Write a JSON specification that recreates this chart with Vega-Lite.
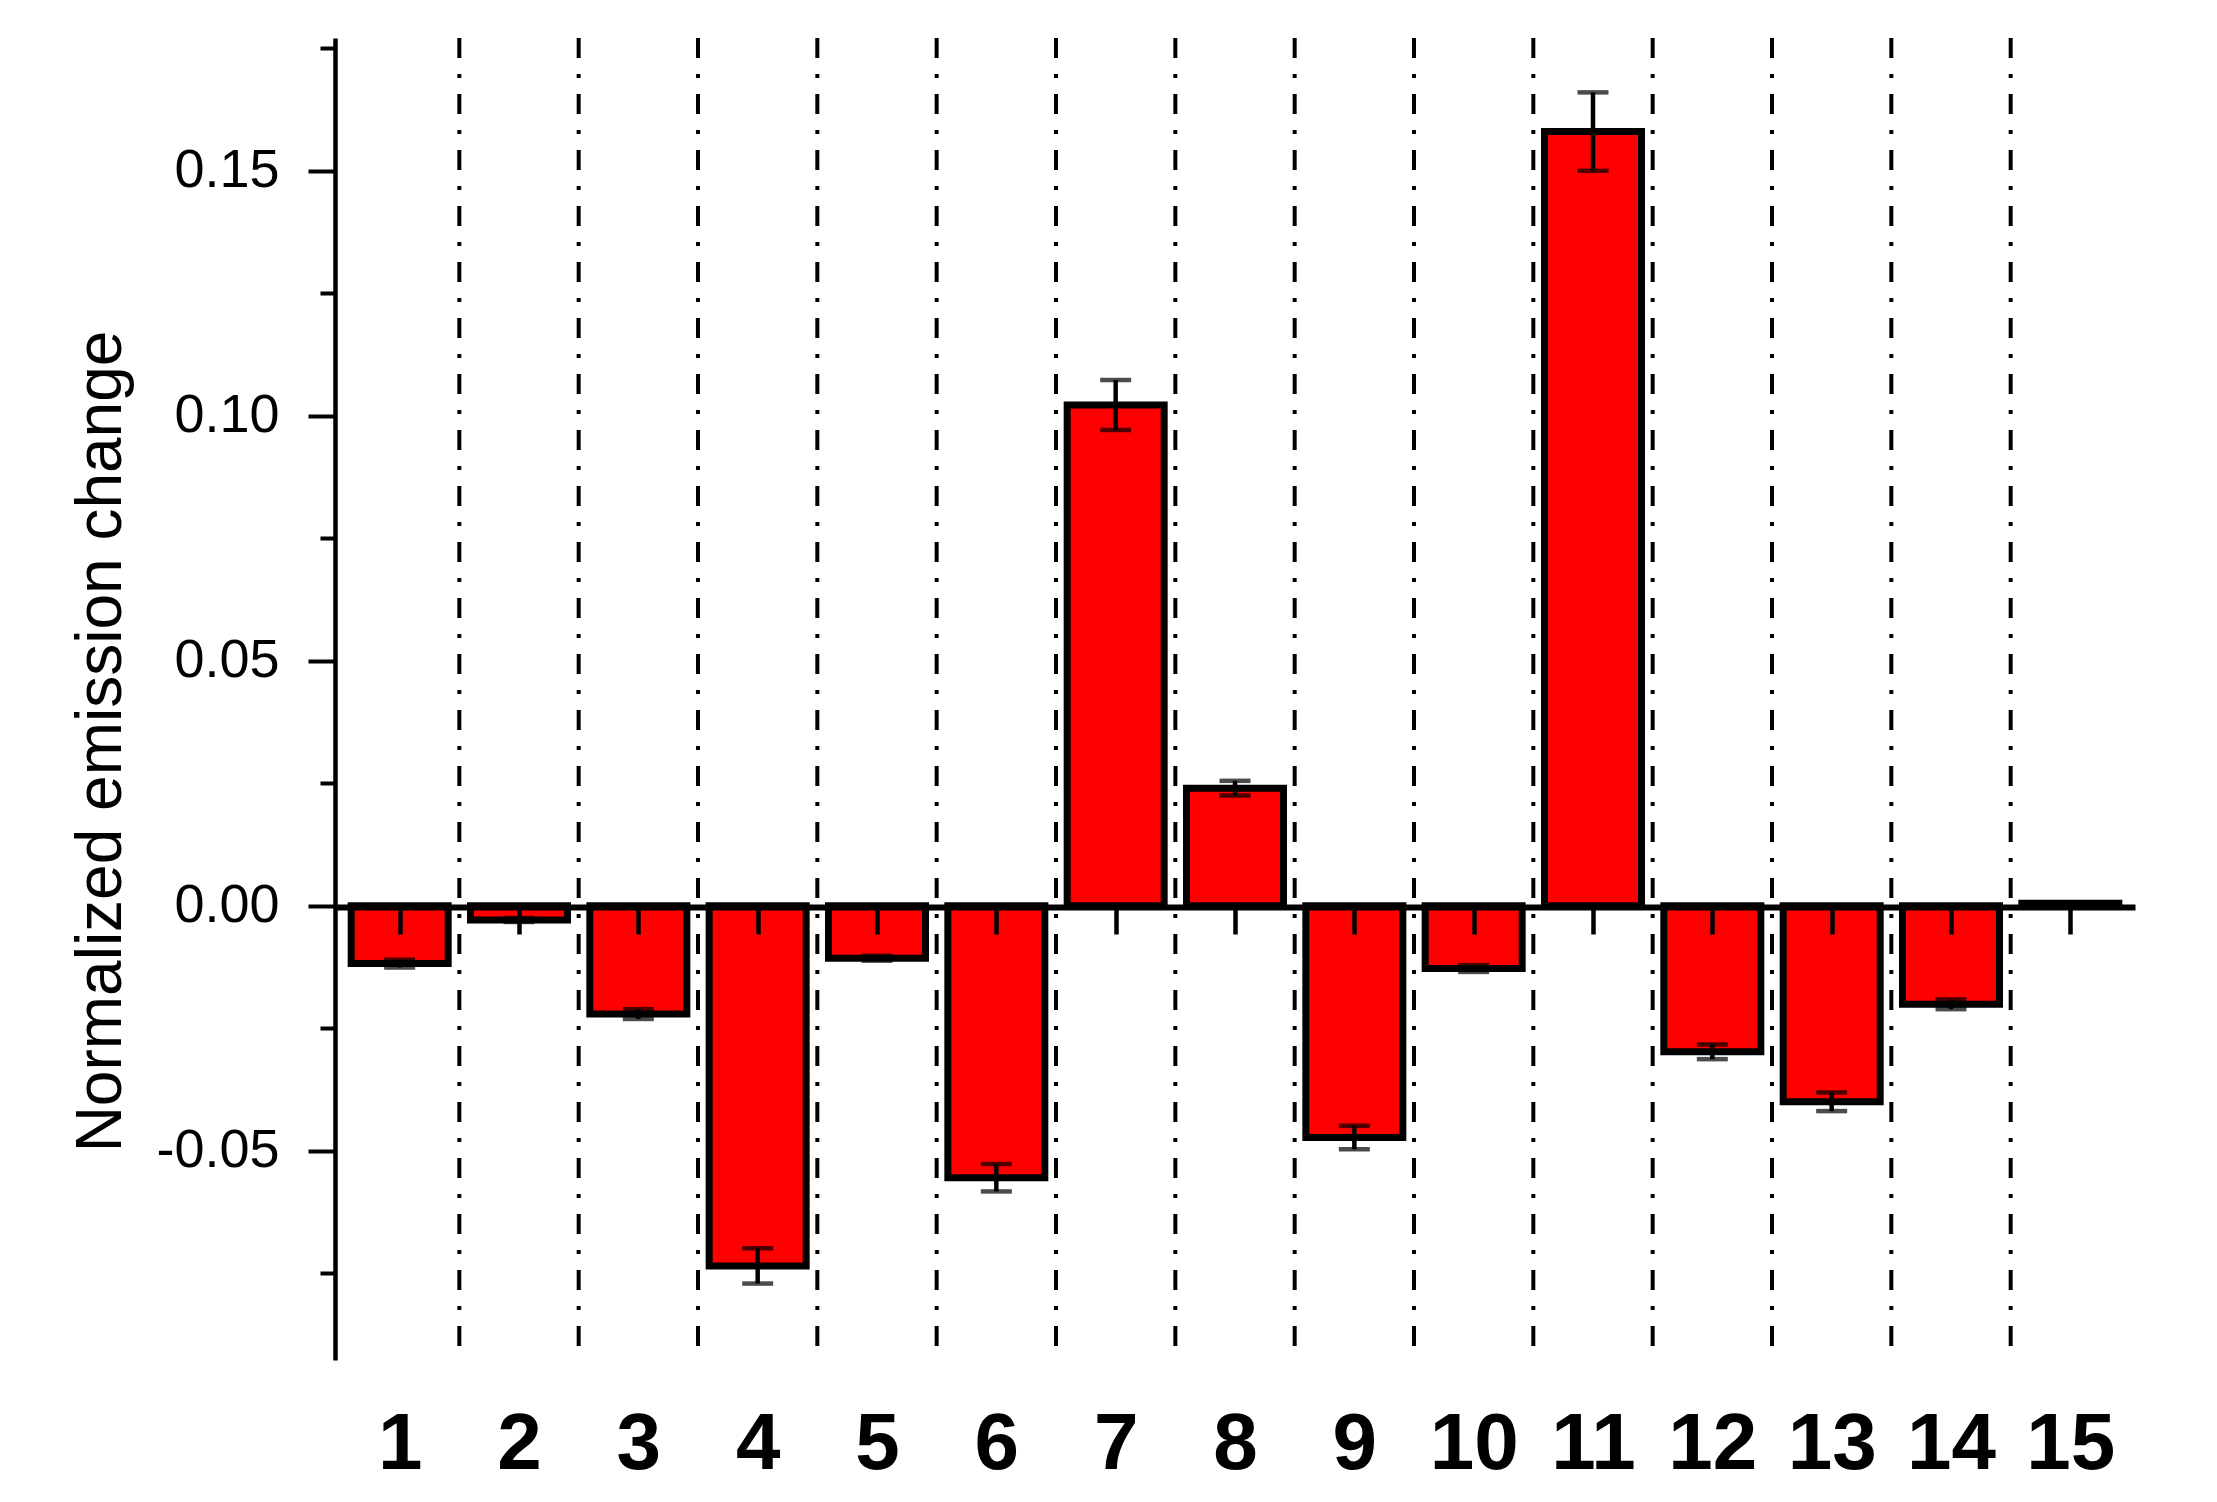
{
  "$schema": "https://vega.github.io/schema/vega-lite/v6.json",
  "width": 1800,
  "height": 1322,
  "autosize": {"type": "none"},
  "padding": {"left": 335, "top": 38, "right": 82, "bottom": 142},
  "background": "white",
  "config": {
    "view": {"stroke": null},
    "axis": {"labelFont": "Liberation Sans", "titleFont": "Liberation Sans", "domainColor": "black", "tickColor": "black", "labelColor": "black", "titleColor": "black", "grid": false}
  },
  "datasets": {
    "bars": [
      {"id": 1, "value": -0.0118, "err": 0.0008},
      {"id": 2, "value": -0.0029, "err": 0.0004},
      {"id": 3, "value": -0.0221, "err": 0.0010},
      {"id": 4, "value": -0.0735, "err": 0.0036},
      {"id": 5, "value": -0.0107, "err": 0.0005},
      {"id": 6, "value": -0.0555, "err": 0.0028},
      {"id": 7, "value": 0.1022, "err": 0.0051},
      {"id": 8, "value": 0.0240, "err": 0.0015},
      {"id": 9, "value": -0.0473, "err": 0.0024},
      {"id": 10, "value": -0.0128, "err": 0.0007},
      {"id": 11, "value": 0.1580, "err": 0.0080},
      {"id": 12, "value": -0.0298, "err": 0.0015},
      {"id": 13, "value": -0.0400, "err": 0.0019},
      {"id": 14, "value": -0.0201, "err": 0.0010},
      {"id": 15, "value": 0.0005, "err": 0.0002}
    ],
    "seps": [
      {"pos": 1.5}, {"pos": 2.5}, {"pos": 3.5}, {"pos": 4.5}, {"pos": 5.5}, {"pos": 6.5}, {"pos": 7.5},
      {"pos": 8.5}, {"pos": 9.5}, {"pos": 10.5}, {"pos": 11.5}, {"pos": 12.5}, {"pos": 13.5}, {"pos": 14.5}
    ]
  },
  "layer": [
    {
      "data": {"name": "seps"},
      "mark": {"type": "rule", "stroke": "black", "strokeWidth": 4, "strokeDash": [20, 16, 4, 16]},
      "encoding": {
        "x": {
          "field": "pos", "type": "quantitative",
          "scale": {"domain": [0.5, 15.5], "nice": false, "zero": false},
          "axis": {"orient": "bottom", "offset": -453, "values": [1, 2, 3, 4, 5, 6, 7, 8, 9, 10, 11, 12, 13, 14, 15], "labels": false, "ticks": true, "tickSize": 27, "tickWidth": 4.5, "domainWidth": 6, "title": null, "zindex": 1, "grid": false}
        }
      }
    },
    {
      "data": {"name": "bars"},
      "mark": {"type": "bar", "fill": "#FF0000", "stroke": "black", "strokeWidth": 7, "size": 97},
      "encoding": {
        "x": {
          "field": "id", "type": "quantitative",
          "axis": {"orient": "bottom", "values": [1, 2, 3, 4, 5, 6, 7, 8, 9, 10, 11, 12, 13, 14, 15], "format": "d", "domain": false, "ticks": false, "labelFontSize": 80, "labelFontWeight": "bold", "labelBaseline": "alphabetic", "labelPadding": 108, "labelFlush": false, "labelOverlap": false, "title": null}
        },
        "y": {
          "field": "value", "type": "quantitative",
          "scale": {"domain": [-0.0927, 0.1771], "nice": false, "zero": false},
          "axis": {"orient": "left", "values": [-0.05, 0, 0.05, 0.1, 0.15], "labelExpr": "replace(format(datum.value, '.2f'), '\u2212', '-')", "labelFontSize": 54, "labelPadding": 29, "labelFlush": false, "tickSize": 27, "tickWidth": 4, "domainWidth": 4.5, "title": "Normalized emission change", "titleFontSize": 64, "titleFontWeight": "normal", "titleX": -215, "titleY": 703, "titleBaseline": "alphabetic", "titleAngle": 270, "titleAlign": "center", "zindex": 1}
        }
      }
    },
    {
      "data": {"name": "bars"},
      "mark": {"type": "errorbar", "color": "black", "thickness": 4.5, "ticks": {"size": 31, "thickness": 4.5, "color": "black"}},
      "encoding": {
        "x": {"field": "id", "type": "quantitative", "axis": null},
        "y": {
          "field": "value", "type": "quantitative",
          "axis": {"orient": "left", "values": [-0.075, -0.025, 0.025, 0.075, 0.125, 0.175], "labels": false, "domain": false, "tickSize": 15, "tickWidth": 4, "title": null, "zindex": 1, "grid": false}
        },
        "yError": {"field": "err"}
      }
    }
  ],
  "resolve": {"axis": {"x": "independent", "y": "independent"}}
}
